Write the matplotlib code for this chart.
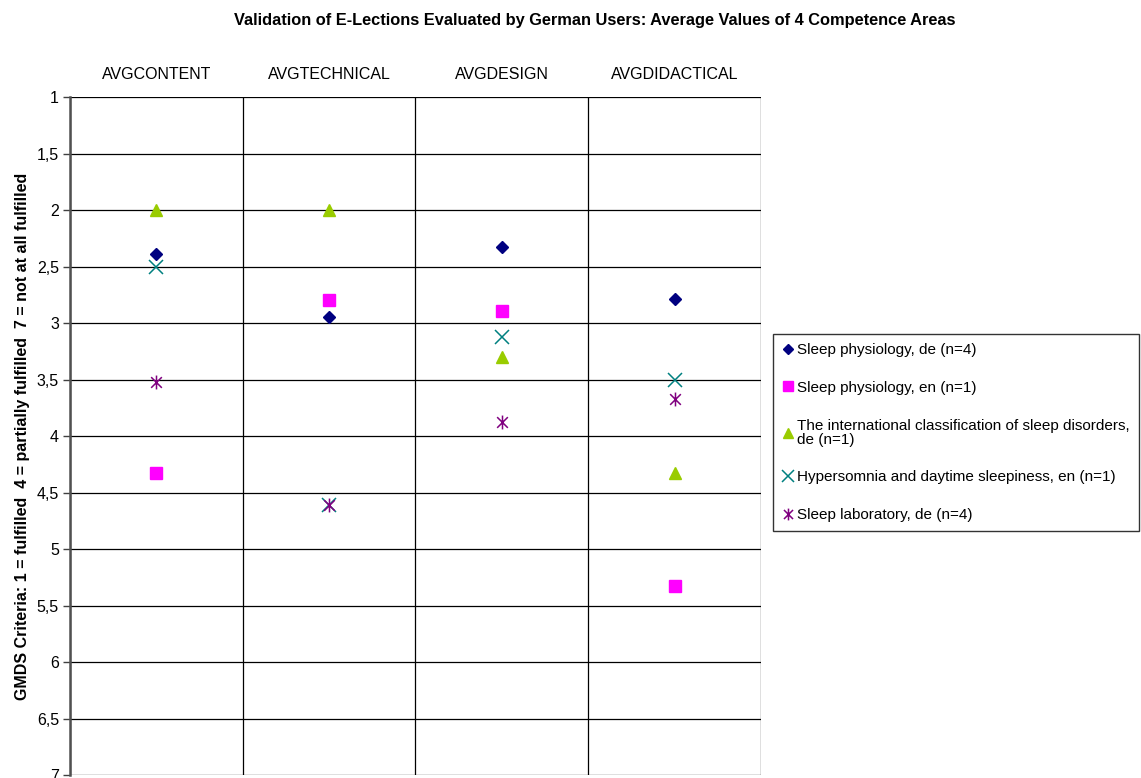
import matplotlib
matplotlib.use("Agg")
import matplotlib.pyplot as plt
from matplotlib.path import Path
import numpy as np

plt.rcParams['font.family'] = ['Liberation Sans', 'DejaVu Sans']

categories = ["AVGCONTENT", "AVGTECHNICAL", "AVGDESIGN", "AVGDIDACTICAL"]
series_names = [
    "Sleep physiology, de (n=4)",
    "Sleep physiology, en (n=1)",
    "The international classification of sleep disorders,\nde (n=1)",
    "Hypersomnia and daytime sleepiness, en (n=1)",
    "Sleep laboratory, de (n=4)",
]
sleep_phys_de = [2.39, 2.95, 2.33, 2.79]
sleep_phys_en = [4.33, 2.80, 2.89, 5.33]
icsd_de = [2.0, 2.0, 3.30, 4.33]
hypersomnia_en = [2.50, 4.61, 3.12, 3.50]
sleep_lab_de = [3.52, 4.61, 3.88, 3.67]
yticks = [1, 1.5, 2, 2.5, 3, 3.5, 4, 4.5, 5, 5.5, 6, 6.5, 7]
ytick_labels = ["1", "1,5", "2", "2,5", "3", "3,5", "4", "4,5", "5", "5,5", "6", "6,5", "7"]

# asterisk marker: X plus vertical line
ast_verts = [(-1, -1), (1, 1), (-1, 1), (1, -1), (0, -1.3), (0, 1.3)]
ast_codes = [Path.MOVETO, Path.LINETO, Path.MOVETO, Path.LINETO, Path.MOVETO, Path.LINETO]
ast_marker = Path(ast_verts, ast_codes)

FS = 11.5

fig = plt.figure(figsize=(11.41, 7.78), dpi=100)
ax = fig.add_axes([70/1141, 3/778, (761-70)/1141, (775-97)/778])

x = np.arange(1, len(categories) + 1)
styles = [
    dict(marker='D', color='#000080', ms=6.5, mec='#000080'),
    dict(marker='s', color='#FF00FF', ms=8.5, mec='#FF00FF'),
    dict(marker='^', color='#99CC00', ms=9, mec='#99CC00'),
    dict(marker='x', color='#008080', ms=10, mew=1.1),
    dict(marker=ast_marker, color='#800080', ms=10, mew=1.1),
]
data = [sleep_phys_de, sleep_phys_en, icsd_de, hypersomnia_en, sleep_lab_de]
handles = []
for vals, name, st in zip(data, series_names, styles):
    h, = ax.plot(x, vals, linestyle='none', label=name, zorder=5, **st)
    handles.append(h)

ax.set_xlim(0.5, len(categories) + 0.5)
ax.set_ylim(7, 1)
ax.set_yticks(yticks)
ax.set_yticklabels(ytick_labels, fontsize=FS)
ax.tick_params(axis='y', direction='out', length=5, width=1, color='#404040', pad=3)

ax.set_xticks(x)
ax.set_xticklabels(categories, fontsize=FS)
ax.xaxis.tick_top()
ax.tick_params(axis='x', which='major', length=0, pad=10.5)
ax.set_xticks(np.arange(0.5, len(categories) + 1), minor=True)
ax.tick_params(axis='x', which='minor', length=0)

ax.grid(True, axis='y', which='major', color='#000000', lw=0.9)
ax.grid(True, axis='x', which='minor', color='#000000', lw=0.9)
ax.set_axisbelow(True)
for s in ['right', 'bottom', 'top']:
    ax.spines[s].set_visible(False)
ax.spines['left'].set_color('#505050')
ax.spines['left'].set_linewidth(1.8)

ax.set_ylabel("GMDS Criteria: 1 = fulfilled  4 = partially fulfilled  7 = not at all fulfilled",
              fontsize=FS, fontweight='bold', labelpad=5)

fig.text(595/1141, 1 - 20/778,
         "Validation of E-Lections Evaluated by German Users: Average Values of 4 Competence Areas",
         ha='center', va='center', fontsize=11.8, fontweight='bold')

leg = fig.legend(handles=handles, loc='upper left', bbox_to_anchor=(773/1141, 1 - 334/778),
                 fontsize=11, frameon=True, fancybox=False, edgecolor='#000000',
                 handlelength=0.7, handletextpad=0.3, labelspacing=1.55, borderpad=0.6,
                 borderaxespad=0, markerscale=0.85)
leg.get_frame().set_linewidth(1.0)
leg.get_texts()[2].set_linespacing(1.0)

fig.savefig("out.png", dpi=100)
